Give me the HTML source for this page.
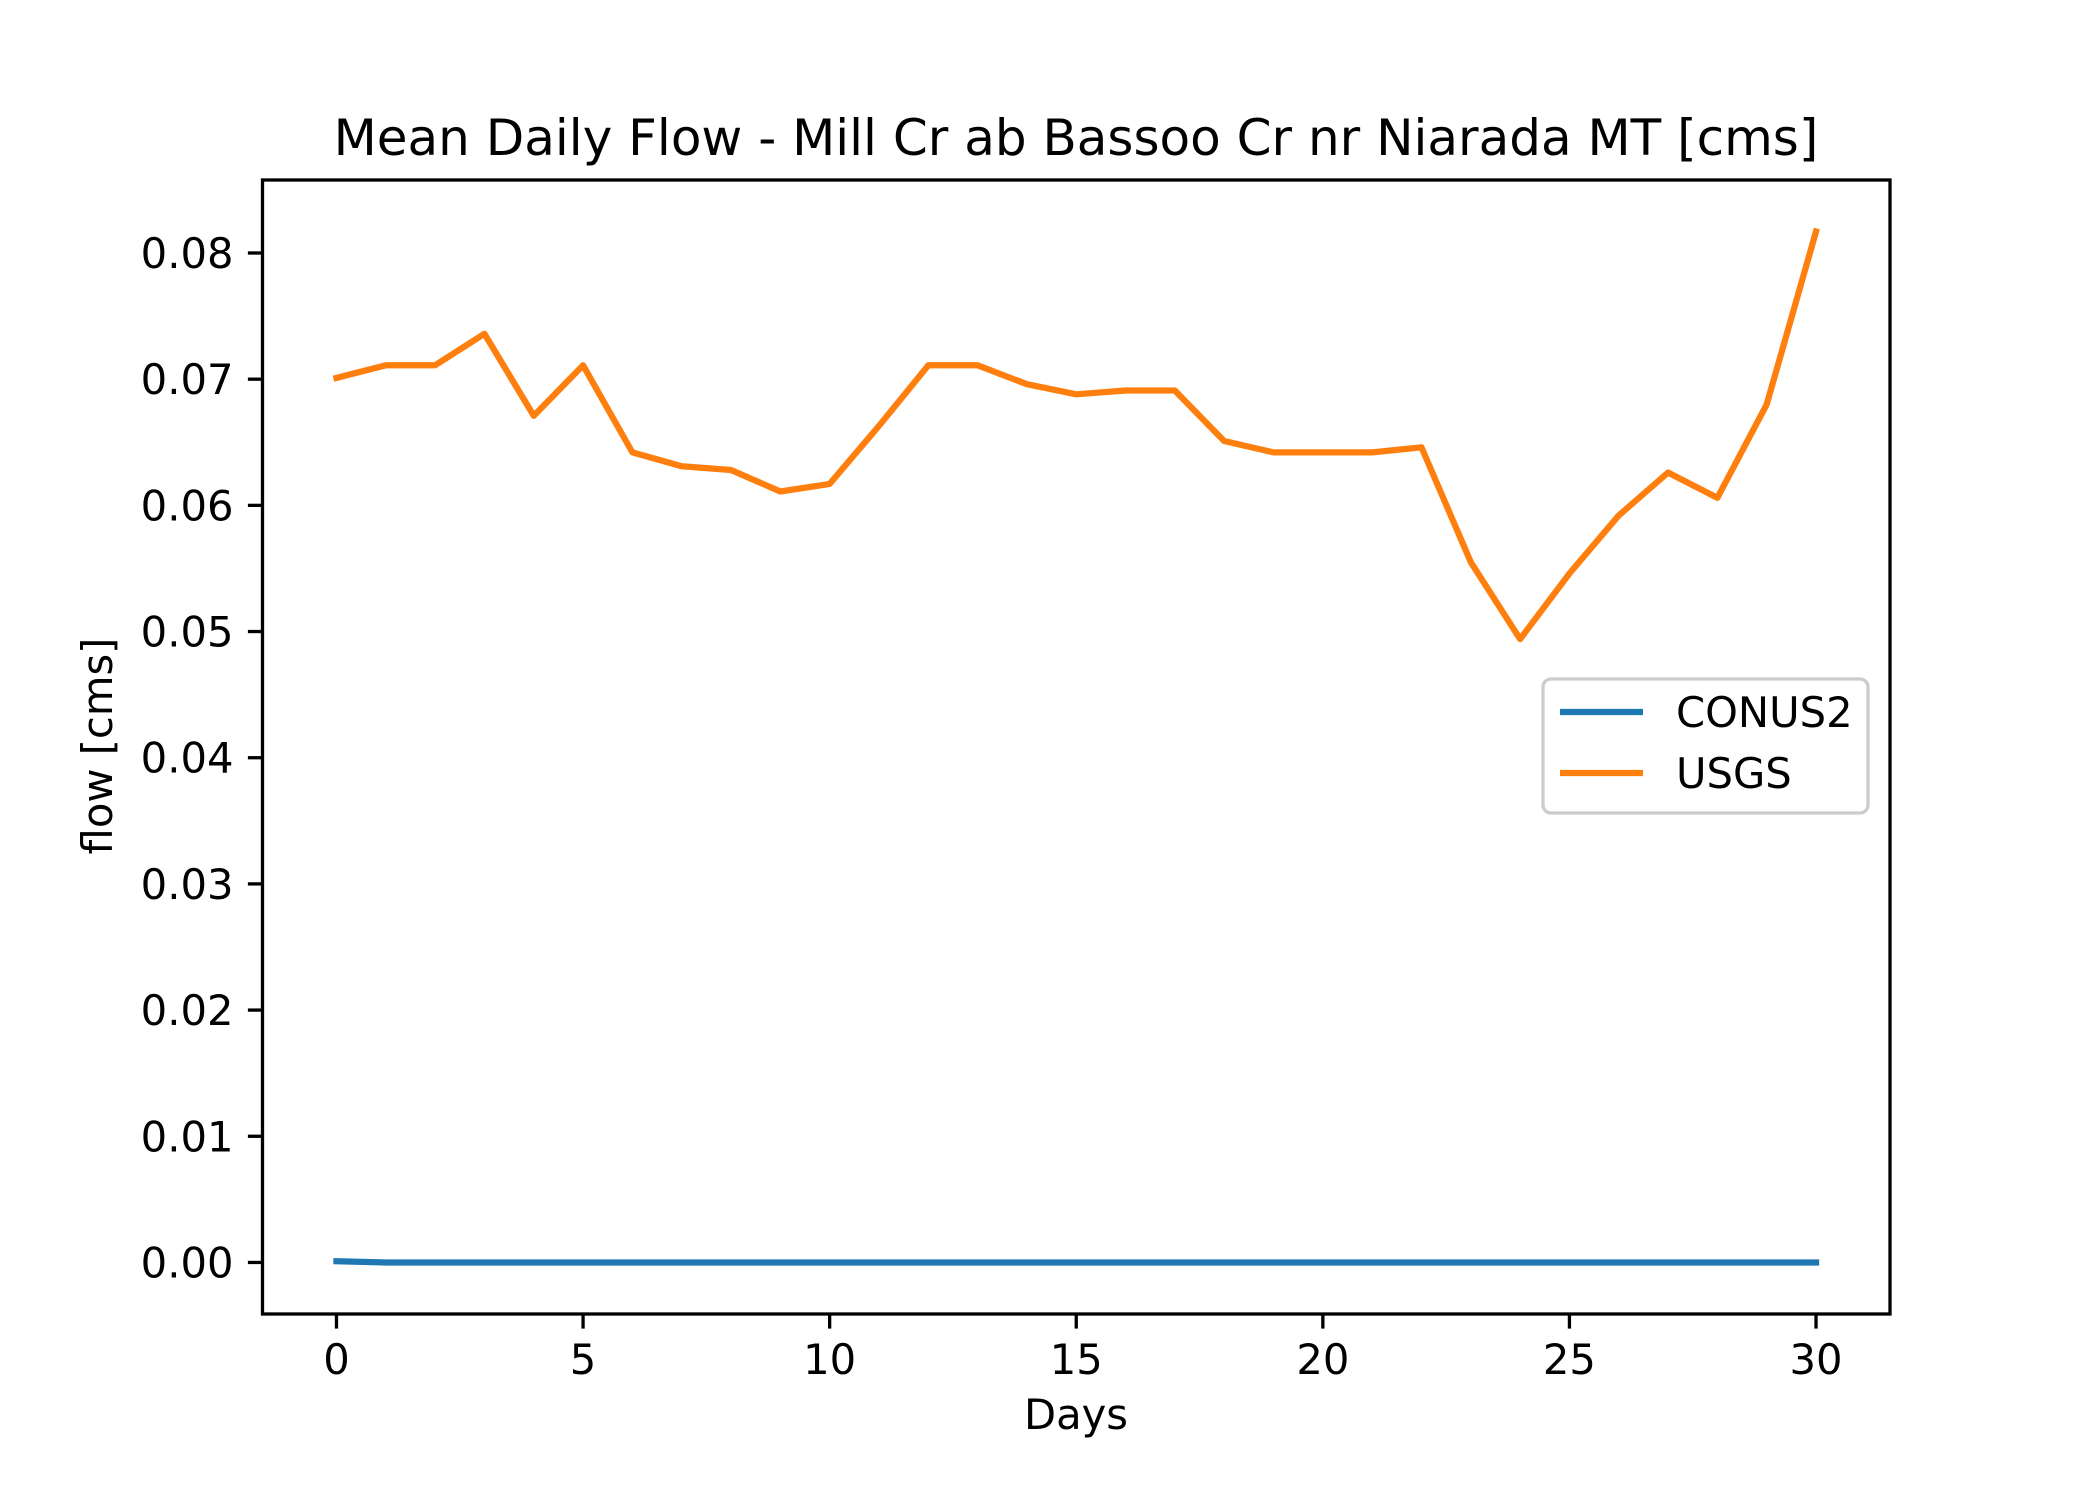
<!DOCTYPE html>
<html><head><meta charset="utf-8"><style>html,body{margin:0;padding:0;background:#fff}svg{display:block}text{font-family:"DejaVu Sans","Liberation Sans",sans-serif;fill:#000}</style></head>
<body>
<svg id="chart" width="2100" height="1500" viewBox="0 0 2100 1500" xmlns="http://www.w3.org/2000/svg">
<rect width="2100" height="1500" fill="#fff"/>
<text x="1076" y="155" font-size="50" text-anchor="middle">Mean Daily Flow - Mill Cr ab Bassoo Cr nr Niarada MT [cms]</text>
<g id="xt"></g><g id="yt"></g><g id="lines"></g>
<rect x="262.5" y="180" width="1627.5" height="1134" fill="none" stroke="#000" stroke-width="3.3"/>
<text x="1076" y="1429" font-size="41.7" text-anchor="middle">Days</text>
<text transform="translate(112,746) rotate(-90)" font-size="41.7" text-anchor="middle">flow [cms]</text>
<g>
<rect x="1543" y="679" width="325" height="134" rx="8" fill="#fff" fill-opacity="0.8" stroke="#ccc" stroke-width="3.3"/>
<line x1="1560" y1="712" x2="1643" y2="712" stroke="#1f77b4" stroke-width="6.25"/>
<text x="1676" y="727" font-size="41.7">CONUS2</text>
<line x1="1560" y1="773" x2="1643" y2="773" stroke="#ff7f0e" stroke-width="6.25"/>
<text x="1676" y="788" font-size="41.7">USGS</text>
</g>
</svg>
<script>
const days=[0,1,2,3,4,5,6,7,8,9,10,11,12,13,14,15,16,17,18,19,20,21,22,23,24,25,26,27,28,29,30];
const usgs=[0.0701,0.0711,0.0711,0.0736,0.0671,0.0711,0.0642,0.0631,0.0628,0.0611,0.0617,0.0663,0.0711,0.0711,0.0696,0.0688,0.0691,0.0691,0.0651,0.0642,0.0642,0.0642,0.0646,0.0555,0.0494,0.0546,0.0592,0.0626,0.0606,0.0680,0.0817];
const conus2=[0.0001,0,0,0,0,0,0,0,0,0,0,0,0,0,0,0,0,0,0,0,0,0,0,0,0,0,0,0,0,0,0];
const xTicks=[0,5,10,15,20,25,30];
const yTicks=[0,0.01,0.02,0.03,0.04,0.05,0.06,0.07,0.08];
const NS='http://www.w3.org/2000/svg';
const L=262.5,R=1890,T=180,B=1314;
const xmin=-1.5,xmax=31.5,ymax0=0.0817,ymin=-ymax0*0.05,ymax=ymax0*1.05;
const sx=v=>L+(v-xmin)/(xmax-xmin)*(R-L);
const sy=v=>B-(v-ymin)/(ymax-ymin)*(B-T);
function mk(t,a,p){const e=document.createElementNS(NS,t);for(const k in a)e.setAttribute(k,a[k]);p.appendChild(e);return e;}
const xt=document.getElementById('xt'),yt=document.getElementById('yt'),lines=document.getElementById('lines');
xTicks.forEach(v=>{
 const l=mk('line',{x1:sx(v),x2:sx(v),y1:B,y2:B+14.6,stroke:'#000','stroke-width':3.3},xt);
 
 
 const t=mk('text',{x:sx(v),y:B+60,'font-size':41.7,'text-anchor':'middle'},xt);
 t.textContent=v;
 
 
});
yTicks.forEach(v=>{
 const l=mk('line',{x1:L-14.6,x2:L,y1:sy(v),y2:sy(v),stroke:'#000','stroke-width':3.3},yt);
 
 
 const t=mk('text',{x:L-29,y:sy(v)+15,'font-size':41.7,'text-anchor':'end'},yt);
 t.textContent=v.toFixed(2);
 
 
});
function series(vals,color,name){
 const p=mk('polyline',{points:days.map((d,i)=>sx(d)+','+sy(vals[i])).join(' '),fill:'none',stroke:color,'stroke-width':6.25,'stroke-linejoin':'round','stroke-linecap':'square'},lines);
 
 
}
series(conus2,'#1f77b4','conus2-line');
series(usgs,'#ff7f0e','usgs-line');
</script>
</body></html>
